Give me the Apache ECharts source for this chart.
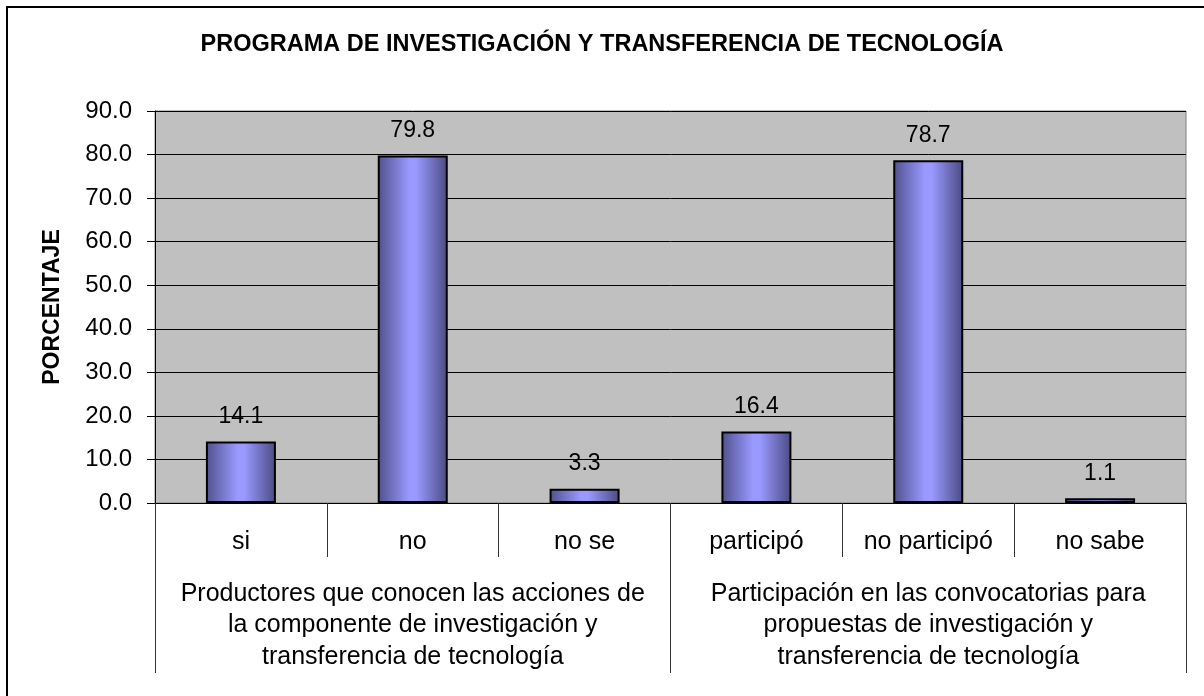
<!DOCTYPE html>
<html>
<head>
<meta charset="utf-8">
<title>Programa de investigación y transferencia de tecnología</title>
<script src="https://cdn.jsdelivr.net/npm/echarts@6/dist/echarts.min.js"></script>
<style>
  html, body { margin: 0; padding: 0; background: #fff; }
  #chart { width: 1204px; height: 696px; }
</style>
</head>
<body>
<div id="chart"></div>
<script>
// ============ Data ============
const categories = ['si', 'no', 'no se', 'participó', 'no participó', 'no sabe']
const groups = [
  'Productores que conocen las acciones de\nla componente de investigación y\ntransferencia de tecnología',
  'Participación en las convocatorias para\npropuestas de investigación y\ntransferencia de tecnología',
]
const percentages = [14.1, 79.8, 3.3, 16.4, 78.7, 1.1]
const yTicks = { min: 0, max: 90, step: 10 }

const FONT = '"Liberation Sans", Arial, sans-serif'

const chart = echarts.init(document.getElementById('chart'))

chart.setOption({
  animation: false,
  backgroundColor: '#fff',
  textStyle: { fontFamily: FONT, color: '#000' },
  title: {
    text: 'PROGRAMA DE INVESTIGACIÓN Y TRANSFERENCIA DE TECNOLOGÍA',
    left: 'center',
    top: 33,
    padding: 0,
    textStyle: { fontFamily: FONT, fontSize: 23.5, fontWeight: 'bold', color: '#000' },
  },
  graphic: [
    {
      // outer chart frame (runs off the bottom/right of the picture)
      type: 'rect',
      z: -10,
      shape: { x: 7, y: 7, width: 1300, height: 800 },
      style: { fill: null, stroke: '#000', lineWidth: 2 },
    },
  ],
  grid: {
    left: 155,
    right: 18,
    top: 111,
    bottom: 193,
    show: true,
    backgroundColor: '#c0c0c0',
    borderColor: '#808080',
    borderWidth: 1,
  },
  xAxis: [
    {
      type: 'category',
      data: categories,
      axisLine: { lineStyle: { color: '#000', width: 1 } },
      axisTick: { show: true, interval: 0, length: 54, lineStyle: { color: '#333' } },
      axisLabel: { interval: 0, margin: 27, fontSize: 25, color: '#000', fontFamily: FONT },
      splitLine: { show: false },
    },
    {
      type: 'category',
      data: groups,
      position: 'bottom',
      axisLine: { show: false },
      axisTick: { show: true, interval: 0, length: 170, lineStyle: { color: '#333' } },
      axisLabel: {
        interval: 0,
        margin: 75,
        fontSize: 25,
        lineHeight: 31.5,
        align: 'center',
        color: '#000',
        fontFamily: FONT,
      },
      splitLine: { show: false },
    },
  ],
  yAxis: {
    type: 'value',
    min: yTicks.min,
    max: yTicks.max,
    interval: yTicks.step,
    name: 'PORCENTAJE',
    nameLocation: 'middle',
    nameRotate: 90,
    nameGap: 91,
    nameTextStyle: { fontFamily: FONT, fontSize: 23, fontWeight: 'bold', color: '#000' },
    axisLine: { show: true, lineStyle: { color: '#000', width: 1 } },
    axisTick: { show: true, length: 8, lineStyle: { color: '#000' } },
    axisLabel: {
      margin: 23,
      fontSize: 24,
      color: '#000',
      fontFamily: FONT,
      formatter: (v) => v.toFixed(1),
    },
    splitLine: { show: true, lineStyle: { color: '#000', width: 1 } },
  },
  series: [
    {
      type: 'bar',
      data: percentages,
      barWidth: 70,
      itemStyle: {
        color: new echarts.graphic.LinearGradient(0, 0, 1, 0, [
          { offset: 0, color: '#50508c' },
          { offset: 0.45, color: '#9999ff' },
          { offset: 0.55, color: '#9999ff' },
          { offset: 1, color: '#4a4a82' },
        ]),
        borderColor: '#000',
        borderWidth: 2,
      },
      label: {
        show: true,
        position: 'top',
        distance: 13,
        fontSize: 23,
        color: '#000',
        fontFamily: FONT,
        formatter: (p) => p.value.toFixed(1),
      },
    },
  ],
})
</script>
</body>
</html>
